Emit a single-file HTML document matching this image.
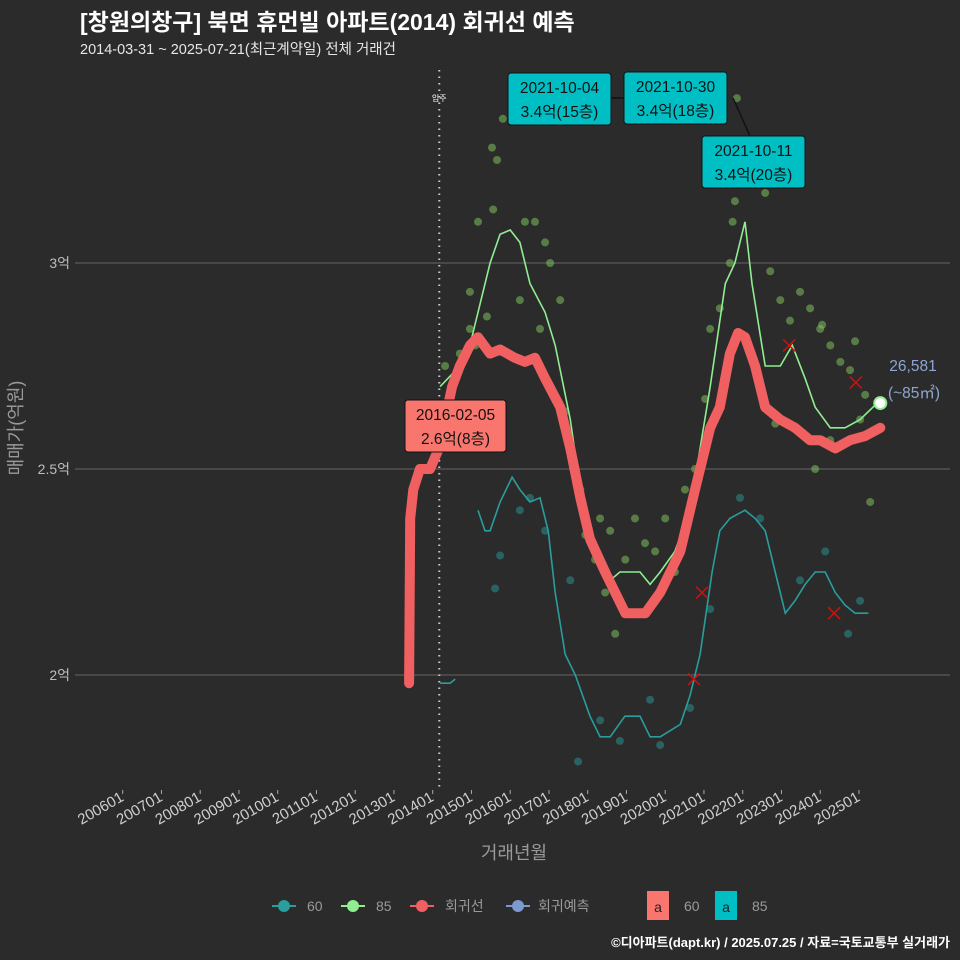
<!DOCTYPE html>
<html><head><meta charset="utf-8">
<style>
body{margin:0;background:#2b2b2b;}
svg{display:block;font-family:"Liberation Sans","Noto Sans CJK KR",sans-serif;}
</style></head>
<body>
<svg id="c" width="960" height="960" viewBox="0 0 960 960">
<rect width="960" height="960" fill="#2b2b2b"/>
<text x="80" y="30" fill="#ffffff" font-size="23" font-weight="bold">[창원의창구] 북면 휴먼빌 아파트(2014) 회귀선 예측</text>
<text x="80" y="54" fill="#e6e6e6" font-size="14.5">2014-03-31 ~ 2025-07-21(최근계약일) 전체 거래건</text>
<g id="grid"></g><g id="ax"></g><g id="marks"></g><g id="ann"></g>
<text x="514" y="859" fill="#9a9a9a" font-size="18" text-anchor="middle">거래년월</text>
<text transform="translate(22,428) rotate(-90)" fill="#9a9a9a" font-size="18" text-anchor="middle">매매가(억원)</text>
<g font-size="14" fill="#9a9a9a">
 <g><line x1="272" y1="906" x2="296" y2="906" stroke="#2a9d9d" stroke-width="2"/><circle cx="284" cy="906" r="6" fill="#2a9d9d"/><text x="307" y="911">60</text></g>
 <g><line x1="341" y1="906" x2="365" y2="906" stroke="#90ee90" stroke-width="2"/><circle cx="353" cy="906" r="6" fill="#90ee90"/><text x="376" y="911">85</text></g>
 <g><line x1="410" y1="906" x2="434" y2="906" stroke="#f16060" stroke-width="2"/><circle cx="422" cy="906" r="6" fill="#f16060"/><text x="445" y="911">회귀선</text></g>
 <g><line x1="506" y1="906" x2="530" y2="906" stroke="#7b9bd0" stroke-width="2"/><circle cx="518" cy="906" r="6" fill="#7b9bd0"/><text x="538" y="911">회귀예측</text></g>
 <g><rect x="647" y="891" width="22" height="29" fill="#f8766d"/><text x="658" y="912" fill="#222" text-anchor="middle">a</text><text x="684" y="911">60</text></g>
 <g><rect x="715" y="891" width="22" height="29" fill="#00bfc4"/><text x="726" y="912" fill="#222" text-anchor="middle">a</text><text x="752" y="911">85</text></g>
</g>
<text x="950" y="947" fill="#ffffff" font-size="13" font-weight="bold" text-anchor="end">©디아파트(dapt.kr) / 2025.07.25 / 자료=국토교통부 실거래가</text>
</svg>
<script>
const yTicks=[2,2.5,3];
const yTickLabels=["2억","2.5억","3억"];
const xTickYears=[2006,2007,2008,2009,2010,2011,2012,2013,2014,2015,2016,2017,2018,2019,2020,2021,2022,2023,2024,2025];
const regT=[2013.39,2013.42,2013.5,2013.67,2013.93,2014.16,2014.32,2014.5,2014.7,2014.96,2015.17,2015.48,2015.74,2016.12,2016.38,2016.64,2016.9,2017.29,2017.55,2017.81,2018.06,2018.45,2018.71,2018.97,2019.49,2019.87,2020.39,2020.77,2021.16,2021.41,2021.67,2021.88,2022.06,2022.32,2022.58,2022.97,2023.35,2023.74,2024.0,2024.39,2024.77,2025.16,2025.55];
const regV=[1.98,2.38,2.45,2.5,2.5,2.55,2.62,2.7,2.75,2.8,2.82,2.78,2.79,2.77,2.76,2.77,2.72,2.65,2.55,2.43,2.33,2.25,2.2,2.15,2.15,2.2,2.3,2.45,2.6,2.65,2.78,2.83,2.82,2.75,2.65,2.62,2.6,2.57,2.57,2.55,2.57,2.58,2.6];
const g85T=[2014.19,2014.7,2014.96,2015.48,2015.74,2016.0,2016.25,2016.51,2016.9,2017.16,2017.55,2017.81,2018.06,2018.32,2018.58,2018.83,2019.35,2019.61,2019.87,2020.25,2020.64,2020.9,2021.16,2021.55,2021.8,2022.06,2022.24,2022.58,2022.97,2023.28,2023.61,2023.87,2024.26,2024.64,2025.03,2025.47];
const g85V=[2.7,2.75,2.8,3.0,3.07,3.08,3.05,2.95,2.88,2.8,2.62,2.45,2.35,2.28,2.23,2.25,2.25,2.22,2.25,2.3,2.4,2.55,2.7,2.95,3.0,3.1,2.95,2.75,2.75,2.8,2.72,2.65,2.6,2.6,2.62,2.66];
const t60aT=[2014.19,2014.45,2014.58];
const t60aV=[1.98,1.98,1.99];
const t60T=[2015.17,2015.35,2015.48,2015.74,2016.05,2016.25,2016.51,2016.77,2016.98,2017.16,2017.42,2017.68,2018.06,2018.32,2018.58,2018.96,2019.35,2019.61,2019.87,2020.39,2020.64,2020.9,2021.21,2021.41,2021.67,2022.06,2022.32,2022.58,2022.84,2023.1,2023.35,2023.61,2023.87,2024.13,2024.39,2024.64,2024.9,2025.24];
const t60V=[2.4,2.35,2.35,2.42,2.48,2.45,2.42,2.43,2.35,2.2,2.05,2.0,1.9,1.85,1.85,1.9,1.9,1.85,1.85,1.88,1.95,2.05,2.25,2.35,2.38,2.4,2.38,2.35,2.25,2.15,2.18,2.22,2.25,2.25,2.2,2.17,2.15,2.15];
const p85T=[2015.81,2015.53,2015.66,2015.56,2015.17,2016.38,2016.64,2016.9,2014.96,2016.25,2017.03,2017.29,2015.4,2016.77,2014.96,2015.1,2014.7,2014.32,2017.42,2017.55,2017.81,2017.94,2018.32,2018.58,2018.19,2018.45,2018.71,2018.97,2019.22,2019.48,2019.74,2020.0,2020.25,2020.51,2020.77,2021.03,2021.16,2021.41,2021.67,2021.74,2021.8,2021.85,2022.58,2022.71,2022.97,2023.22,2023.48,2023.74,2024.0,2024.26,2024.05,2024.52,2024.77,2024.9,2025.16,2025.29,2025.03,2024.26,2023.87,2022.84];
const p85V=[3.35,3.28,3.25,3.13,3.1,3.1,3.1,3.05,2.93,2.91,3.0,2.91,2.87,2.84,2.84,2.8,2.78,2.75,2.64,2.55,2.45,2.34,2.38,2.35,2.28,2.2,2.1,2.28,2.38,2.32,2.3,2.38,2.25,2.45,2.5,2.67,2.84,2.89,3.0,3.1,3.15,3.4,3.17,2.98,2.91,2.86,2.93,2.89,2.84,2.8,2.85,2.76,2.74,2.81,2.68,2.42,2.62,2.57,2.5,2.61];
const p60T=[2015.61,2015.74,2016.25,2016.51,2016.9,2017.55,2017.75,2018.32,2018.83,2019.61,2019.87,2020.64,2021.16,2021.93,2022.45,2023.48,2024.13,2024.72,2025.03];
const p60V=[2.21,2.29,2.4,2.43,2.35,2.23,1.79,1.89,1.84,1.94,1.83,1.92,2.16,2.43,2.38,2.23,2.3,2.1,2.18];
const xT=[2023.2,2024.92,2020.95,2024.36,2020.74];
const xV=[2.8,2.71,2.2,2.15,1.99];

const NS="http://www.w3.org/2000/svg";
function X(t){return 122.7+(t-2006)*38.75;}
function Y(v){return 675-(v-2)*412;}
function mk(tag,attrs,parent){const e=document.createElementNS(NS,tag);for(const k in attrs)e.setAttribute(k,attrs[k]);parent.appendChild(e);return e;}
const grid=document.getElementById('grid'),ax=document.getElementById('ax'),marks=document.getElementById('marks'),ann=document.getElementById('ann');
yTicks.forEach((v,i)=>{
 const l=mk('line',{x1:75,x2:950,y1:Y(v),y2:Y(v),stroke:'#5a5a5a','stroke-width':1.2},grid);
 
 
 const t=mk('text',{x:70,y:Y(v)+5,fill:'#bdbdbd','font-size':14,'text-anchor':'end'},ax);
 t.textContent=yTickLabels[i];
 
 
});
xTickYears.forEach(y=>{
 const x=X(y);
 mk('line',{x1:x,x2:x,y1:790,y2:794,stroke:'#aaa'},ax);
 const t=mk('text',{transform:`translate(${x+2},800) rotate(-30)`,fill:'#d0d0d0','font-size':15,'text-anchor':'end'},ax);
 t.textContent=y+'01';
 
 
});
const mv=mk('line',{x1:X(2014.17),x2:X(2014.17),y1:70,y2:790,stroke:'#cccccc','stroke-width':2,'stroke-dasharray':'1.5 5'},grid);


const mt=mk('text',{x:X(2014.17),y:101,fill:'#fff','font-size':8,'text-anchor':'middle'},grid);
mt.textContent='입주';



p85T.forEach((t,i)=>{const c=mk('circle',{cx:X(t),cy:Y(p85V[i]),r:4,fill:'#7fbf5f','fill-opacity':0.55},marks);
 
 });
p60T.forEach((t,i)=>{const c=mk('circle',{cx:X(t),cy:Y(p60V[i]),r:4,fill:'#2a8f8f','fill-opacity':0.55},marks);
 
 });
function path(T,V){return T.map((t,i)=>(i?'L':'M')+X(t).toFixed(1)+','+Y(V[i]).toFixed(1)).join('');}
let p=mk('path',{d:path(t60aT,t60aV),fill:'none',stroke:'#2a9d9d','stroke-width':1.6},marks);


p=mk('path',{d:path(t60T,t60V),fill:'none',stroke:'#2a9d9d','stroke-width':1.6},marks);


p=mk('path',{d:path(g85T,g85V),fill:'none',stroke:'#90ee90','stroke-width':1.6},marks);


p=mk('path',{d:path(regT,regV),fill:'none',stroke:'#f16060','stroke-width':10,'stroke-linejoin':'round','stroke-linecap':'round'},marks);


xT.forEach((t,i)=>{const x=X(t),y=Y(xV[i]);const g=mk('path',{d:`M${x-6},${y-6}L${x+6},${y+6}M${x+6},${y-6}L${x-6},${y+6}`,stroke:'#d01010','stroke-width':1.5},marks);
 
 });
const lp=mk('circle',{cx:X(2025.55),cy:Y(2.66),r:6,fill:'#ffffff',stroke:'#90ee90','stroke-width':2},marks);



function box(x,y,w,h,fill,l1,l2,name){
 const g=mk('g',{},ann);
 
 
 mk('rect',{x:x,y:y,width:w,height:h,rx:3,fill:fill,stroke:'#111','stroke-width':1},g);
 const a=mk('text',{x:x+w/2,y:y+20,'font-size':15.5,fill:'#111','text-anchor':'middle'},g);a.textContent=l1;
 const b=mk('text',{x:x+w/2,y:y+44,'font-size':15.5,fill:'#111','text-anchor':'middle'},g);b.textContent=l2;
}
mk('line',{x1:611,y1:98,x2:624,y2:98,stroke:'#111','stroke-width':1.5},ann);
mk('line',{x1:733,y1:98,x2:750,y2:136,stroke:'#111','stroke-width':1.5},ann);
box(508,73,103,52,'#00bfc4','2021-10-04','3.4억(15층)','annotation-2021-10-04');
box(624,72,103,52,'#00bfc4','2021-10-30','3.4억(18층)','annotation-2021-10-30');
box(702,136,103,52,'#00bfc4','2021-10-11','3.4억(20층)','annotation-2021-10-11');
box(405,400,101,52,'#f8766d','2016-02-05','2.6억(8층)','annotation-2016-02-05');
const r1=mk('text',{x:913,y:371,'font-size':15.5,fill:'#8ea6cf','text-anchor':'middle'},ann);r1.textContent='26,581';


const r2=mk('text',{x:914,y:398,'font-size':15.5,fill:'#8ea6cf','text-anchor':'middle'},ann);r2.textContent='(~85㎡)';


</script>
</body></html>
